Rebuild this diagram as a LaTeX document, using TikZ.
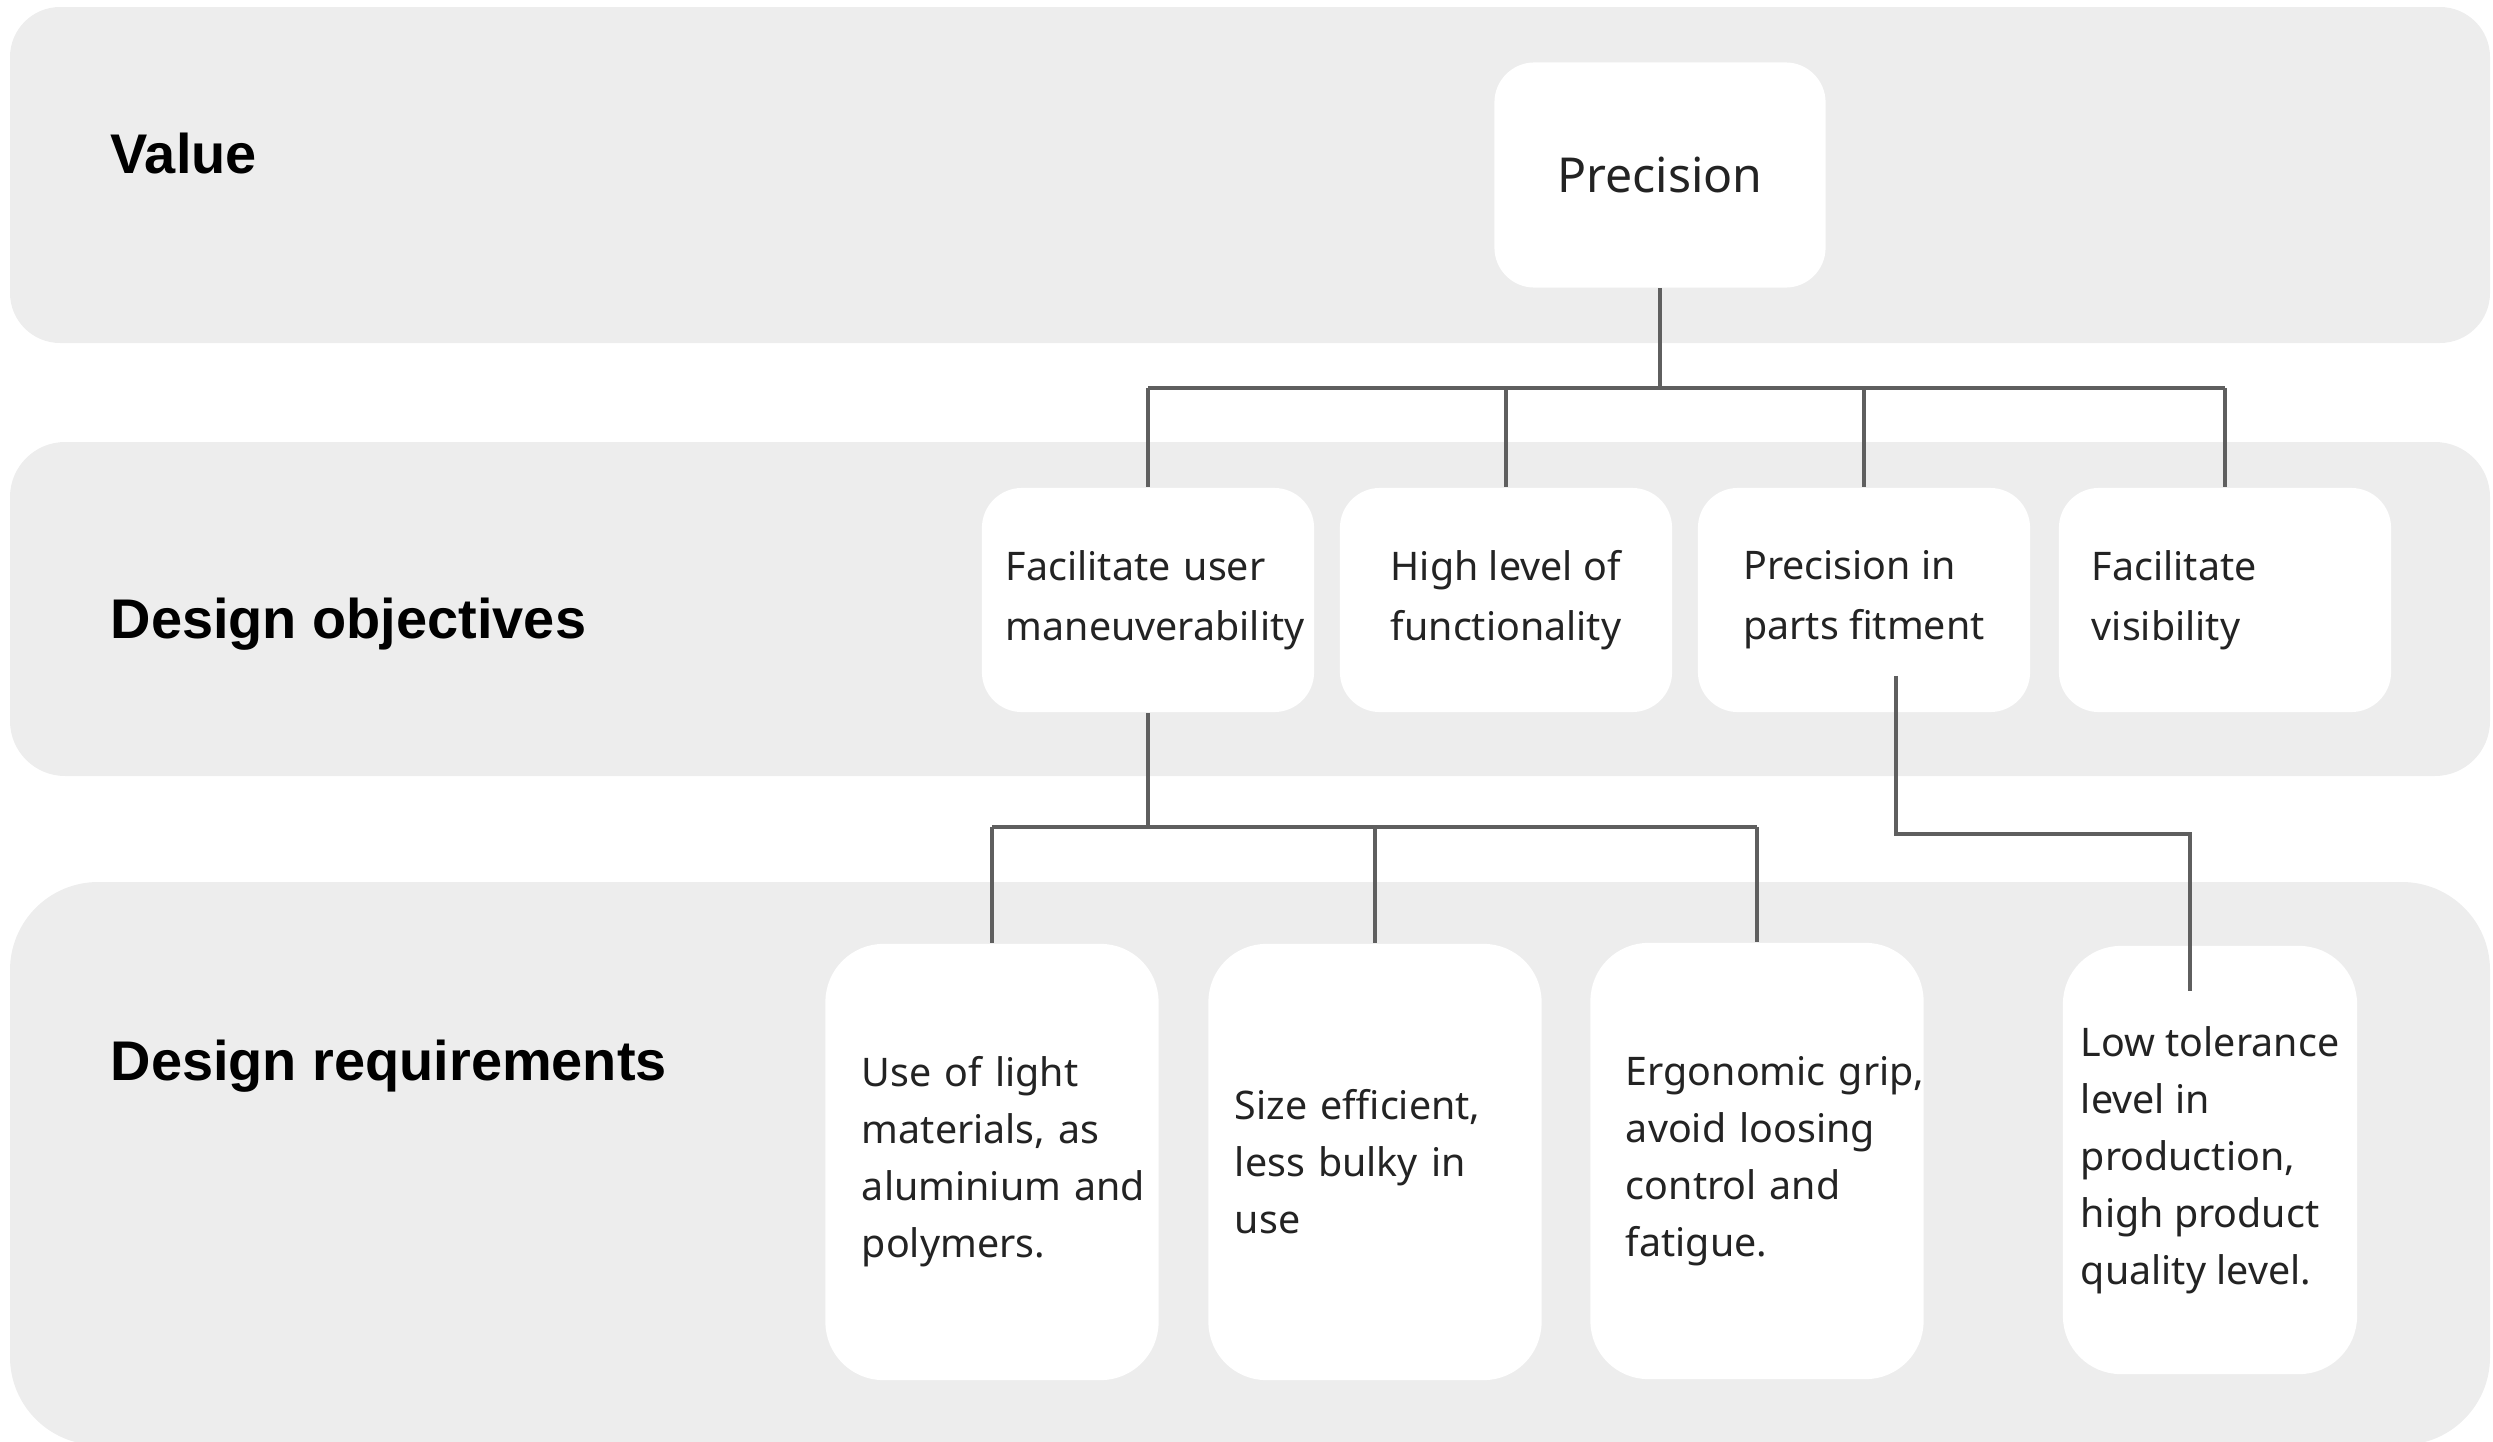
\documentclass[tikz,border=0pt]{standalone}
\usepackage{fontspec}
\setmainfont{Noto Sans}
\newfontfamily\lblfont{Liberation Sans}
\usetikzlibrary{positioning, calc}
\definecolor{band-gray}{RGB}{237,237,237}
\definecolor{link-gray}{RGB}{95,95,95}
\definecolor{txt-dark}{RGB}{35,35,35}
\tikzset{
  band/.style={fill=band-gray, draw=none},
  card/.style={fill=white, draw=none, text=txt-dark, align=left, inner sep=0pt, font=\fontsize{11.2pt}{17pt}\selectfont,
    execute at begin node={\hyphenpenalty=10000 \hbadness=10000 \hfuzz=2cm}},
  objcard/.style={card, rounded corners=0.4cm, minimum width=3.32cm, minimum height=2.24cm},
  reqcard/.style={card, rounded corners=0.58cm, minimum width=3.33cm, minimum height=4.36cm, font=\fontsize{11.2pt}{16.2pt}\selectfont},
  lvl/.style={anchor=base west, inner sep=0pt, font=\lblfont\bfseries\fontsize{15.9pt}{19pt}\selectfont},
  link/.style={draw=link-gray, line width=0.9pt},
}

\begin{document}
\begin{tikzpicture}[x=0.01cm, y=-0.01cm]
      \useasboundingbox (0,0) rectangle (2493,1442);

      % bands
      \fill[band, rounded corners=0.5cm ] (10,  7) rectangle (2490, 343);
      \fill[band, rounded corners=0.55cm] (10,442) rectangle (2490, 776);
      \fill[band, rounded corners=0.88cm] (10,882) rectangle (2490,1445);

      \node[lvl] (val) at (110, 173) {Value};
      \node[lvl] (obj) at (110, 638) {Design objectives};
      \node[lvl] (req) at (110,1080) {Design requirements};

      \node[objcard, align=center, minimum width=3.31cm, minimum height=2.25cm, font=\fontsize{13.7pt}{17pt}\selectfont] (prec) at (1660,175) {Precision};

      \node[objcard, text width=2.84cm] (fac) at (1148,600) {Facilitate~user\\maneuverability};
      \node[objcard                 ] (hlf) at (1506,600) {High level of\\functionality};
      \node[objcard                 ] (fit) at (1864,600) {Precision in\\parts fitment};
      \node[objcard, text width=2.66cm] (vis) at (2225,600) {Facilitate\\visibility};

      \node[reqcard, text width=2.60cm] (light) at ( 992,1162) {Use~of~light\\materials,~as\\aluminium~and\\polymers.};
      \node[reqcard, text width=2.80cm] (size)  at (1375,1162) {Size~efficient,\\less~bulky~in\\use};
      \node[reqcard, text width=2.62cm] (ergo)  at (1757,1161) {Ergonomic~grip,\\avoid~loosing\\control~and\\fatigue.};
      \node[reqcard, minimum width=2.94cm, minimum height=4.28cm] (lowt) at (2210,1160) {Low tolerance\\level in\\production,\\high product\\quality level.};

      % value -> objectives
      \coordinate (tbus) at (1660,388);
      \draw[link] (prec.south) -- (tbus);
      \draw[link] (tbus -| fac.north) -- (tbus -| vis.north);
      \foreach \o in {fac, hlf, fit, vis}
        \draw[link] (tbus -| \o.north) -- (\o.north);

      % objectives -> requirements
      \coordinate (rbus) at (1148,827);
      \draw[link] (fac.south) -- (rbus);
      \draw[link] (rbus -| light.north) -- (rbus -| ergo.north);
      \foreach \r in {light, size, ergo}
        \draw[link] (rbus -| \r.north) -- (\r.north);

      \coordinate (fitout)  at ($(fit.south)+(32,-37)$);
      \coordinate (fitbend) at (2190,834);
      \draw[link] (fitout) |- (fitbend) -- ($(fitbend |- lowt.north)+(0,46)$);
    \end{tikzpicture}
\end{document}
